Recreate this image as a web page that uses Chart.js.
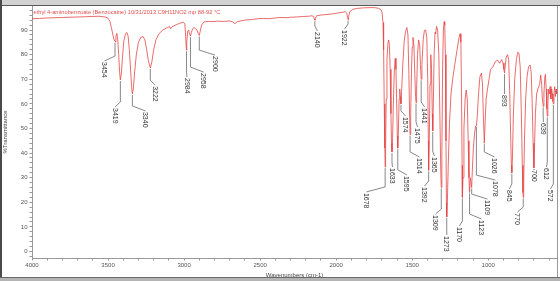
<!DOCTYPE html>
<html><head><meta charset="utf-8">
<script src="https://cdn.jsdelivr.net/npm/chart.js@4.4.1/dist/chart.umd.min.js"></script>
<style>
html,body{margin:0;padding:0;background:#fff;width:560px;height:281px;overflow:hidden;}
#wrap{position:relative;width:560px;height:281px;}
canvas{position:absolute;left:0;top:0;}
.f{position:absolute;}
</style></head><body>
<div id="wrap">
<canvas id="c" width="560" height="281"></canvas>
<div class="f" style="left:0;top:0;width:560px;height:5px;background:#d2d2d2"></div>
<div class="f" style="left:0;top:5px;width:560px;height:1px;background:#5a5a5a"></div>
<div class="f" style="left:0;top:0;width:2px;height:281px;background:#4a4a4a"></div>
<div class="f" style="left:557px;top:6px;width:1px;height:271px;background:#9a9a9a"></div>
<div class="f" style="left:0;top:277px;width:560px;height:1px;background:#6a6a6a"></div>
<div class="f" style="left:0;top:278px;width:560px;height:3px;background:#b4b4b4"></div>
</div>
<script>
// ---- data ----
const sampleTitle = "ethyl 4-aminobenzoate (Benzocaine) 10/31/2013 C9H11NO2 mp 88-92 \u00B0C";

const wavenumbers = [
4000,3950,3900,3850,3800,3750,3700,3650,3600,3560,3520,3500,3488,3478,3468,3460,3454,3448,3442,3436,
3430,3424,3419,3413,3405,3396,3385,3376,3368,3360,3352,3345,3340,3334,3325,3314,3300,3285,3270,3258,
3246,3235,3222,3212,3200,3185,3165,3140,3110,3095,3088,3080,3050,3025,3005,2995,2990,2986,2984,2981,
2976,2970,2964,2958,2952,2944,2935,2925,2915,2906,2900,2894,2885,2870,2840,2810,2780,2740,2700,2680,
2665,2650,2620,2590,2550,2510,2480,2440,2400,2370,2330,2300,2260,2220,2180,2160,2148,2144,2140,2136,
2128,2100,2060,2020,1990,1960,1940,1930,1925,1922,1918,1910,1890,1860,1820,1780,1750,1720,1705,1698,
1692,1688,1684,1680,
1678,1675,1671,1666,1660,1655,1650,1645,1640,1636,1633,1629,1624,1618,1612,1607,1602,1598,1595,1591,
1586,1582,1578,1574,1569,1562,1553,1544,1535,1528,1522,1517,1514,1510,1505,1500,1495,1489,1483,1478,
1475,1471,1465,1458,1451,1446,1441,1436,1428,1420,1412,1404,1398,1394,1392,1388,1383,1378,1373,1368,
1365,1361,1356,1350,1346,1340,1333,1325,1318,1312,1309,1305,1300,1295,1290,1286,1282,1278,1275,1273,
1269,1263,1255,1245,1232,1220,1205,1192,1185,1180,1176,1172,1170,1166,1160,1152,1145,1138,1132,1127,
1123,1118,1114,1109,1104,1098,1090,1083,1078,1072,1064,1055,1045,1038,1032,1026,1021,1014,1005,995,
985,970,955,940,925,912,903,897,893,889,882,873,866,859,852,848,845,841,835,826,
815,805,798,790,782,776,772,770,767,762,754,745,735,725,718,711,705,700,696,690,
682,672,662,655,649,644,639,634,628,624,619,615,612,608,603,598,593,588,583,578,
575,572,568,563,558,554,550,548
];

const transmittance = [
94.6,94.7,94.9,95.0,95.1,95.2,95.3,95.4,95.5,95.6,95.3,94.8,93.5,91,88,86,85.3,87.5,88.6,86,
80,73,69.7,72,79,85.5,88.5,89,87.5,82,74,67,64,66,73,80,85,87,87.4,86,
82,77.5,74.6,77,82,86,88.5,90,91,91.4,90.5,91.3,92.2,92.8,93.2,92.5,88,83,81.8,85,
89.5,90,88.5,87.5,89,90.5,91,90.5,90,88.5,87.8,89.5,92,93.3,93.5,93.4,93.6,93.5,93.7,93.3,
92.6,93.4,93.8,94.1,94.3,94.6,94.7,94.6,94.9,95.1,95.0,95.2,95.3,95.5,95.6,95.8,95.5,94.5,94.0,94.8,
95.8,96.1,96.3,96.6,96.9,97.2,97.4,96.8,95,94.2,95.5,97.5,98.4,98.8,99.0,99.1,99.1,98.8,98.2,97,
93,82,60,42,
34.3,42,62,78,84.5,86,84,74,56,44,40.5,46,60,73,78.5,74,60,47,42,49,
62,66,63,60,66,76,85,89.5,91,88,72,55,47.5,56,73,83,87,84,72,63,
60.5,66,80,86,84,76,70,76,86,89.8,90,87,70,45,33,45,68,80,74,56,
49,60,80,89,88.5,91.5,90,80,55,32,26,40,75,90,93.4,92,80,45,20,14,
20,35,52,64,71,76,82,87,88.5,85,65,35,22,30,50,62,65.6,62,45,30,
24,30,30,26,34,42,48,51,51,55,64,71,72.5,68,55,44,52,62,66,70,
74,75,77,77.8,76.5,78,76.6,74,72.5,75,79,80,78,65,45,35,32,38,55,70,
78,81,80.5,75,55,35,24,22,28,45,62,71,75,75.8,73,60,44,34,42,56,
64,66.4,68,71.7,68,62,59,64,71,72,66,58,55,60,66,64,67,62,66,64,
61,60,64,67,63,66,64,65
];

// labelled peaks (cm-1)
const peakWavenumbers = [3454,3419,3340,3222,2984,2958,2900,2140,1922,1678,1633,1595,1574,1514,1475,1441,
  1392,1365,1309,1273,1170,1123,1109,1078,1026,893,845,770,700,639,612,572];

// axis ticks
const xTickValues = [];
for (let v = 600; v <= 4000; v += 100) xTickValues.push(v);
const xTickLabels = [4000,3500,3000,2500,2000,1500,1000];
const yTickValues = [];
for (let v = -2; v <= 98; v += 2) yTickValues.push(v);
const yTickLabels = [0,10,20,30,40,50,60,70,80,90];

// ---- layout (label placement, in data units) ----
const labelAnchorWn = [3523,3454,3254,3191,2981,2872,2797,2123,1945,1801,1630,1535,1544,1452,1465,1419,
  1419,1354,1347,1272,1189,1045,1005,953,959,893,861,808,696,637,617,591];
const labelAnchorT = [77.0,58.3,56.7,67.2,70.5,72.5,79.4,89.2,90.0,23.8,33.9,30.7,54.7,38.0,50.2,58.3,
  26.2,38.4,14.8,6.3,10.0,12.8,20.9,28.6,38.0,63.6,25.0,15.6,33.1,52.2,33.9,25.0];

const FONT = '"Liberation Sans", Arial, sans-serif';
const points = wavenumbers.map((w, i) => ({x: w, y: transmittance[i]}));

function interpT(w) {
  for (let i = 0; i < wavenumbers.length - 1; i++) {
    const a = wavenumbers[i], b = wavenumbers[i + 1];
    if (w <= a && w >= b) {
      const t = (a - w) / (a - b);
      return transmittance[i] + t * (transmittance[i + 1] - transmittance[i]);
    }
  }
  return transmittance[transmittance.length - 1];
}

const annotate = {
  id: 'annotate',
  afterDatasetsDraw(chart) {
    const {ctx, chartArea, scales: {x, y}} = chart;
    ctx.save();
    ctx.fillStyle = 'rgb(225,80,80)';
    ctx.font = '5.7px ' + FONT;
    ctx.textBaseline = 'middle';
    ctx.textAlign = 'left';
    ctx.fillText(sampleTitle, chartArea.left + 1.5, chartArea.top + 6.5);

    ctx.strokeStyle = '#6a6a6a';
    ctx.lineWidth = 0.8;
    ctx.fillStyle = '#333';
    ctx.font = '7px ' + FONT;
    peakWavenumbers.forEach((wn, i) => {
      const xp = x.getPixelForValue(wn);
      const yp = y.getPixelForValue(interpT(wn));
      const xl = x.getPixelForValue(labelAnchorWn[i]);
      const yt = y.getPixelForValue(labelAnchorT[i]);
      const yb = Math.max(yp + 2, yt - 6);
      ctx.beginPath();
      ctx.moveTo(xp, yp + 1);
      ctx.lineTo(xp, yb);
      ctx.lineTo(xl, yt - 1);
      ctx.stroke();
      ctx.save();
      ctx.translate(xl, yt);
      ctx.rotate(Math.PI / 2);
      ctx.textBaseline = 'middle';
      ctx.textAlign = 'left';
      ctx.fillText(String(wn), 0, 0.5);
      ctx.restore();
    });
    ctx.restore();
  }
};

new Chart(document.getElementById('c'), {
  type: 'scatter',
  data: {
    datasets: [{
      data: points,
      showLine: true,
      borderColor: 'rgb(228,70,70)',
      borderWidth: 0.8,
      pointRadius: 0,
      tension: 0,
      fill: false
    }]
  },
  options: {
    responsive: false,
    animation: false,
    devicePixelRatio: 1,
    layout: {padding: {top: 6, right: 3, left: 0, bottom: 0}},
    plugins: {legend: {display: false}, tooltip: {enabled: false}, title: {display: false}},
    scales: {
      x: {
        type: 'linear', reverse: true, min: 548, max: 4000,
        afterBuildTicks: s => { s.ticks = xTickValues.map(v => ({value: v})); },
        afterFit: s => { s.height = 23; },
        ticks: {
          autoSkip: false, maxRotation: 0, minRotation: 0, padding: 1.5,
          color: '#555', font: {size: 6, family: FONT},
          callback: v => xTickLabels.includes(v) ? String(v) : ''
        },
        grid: {drawOnChartArea: false, drawTicks: true, tickLength: 2.5, color: '#999'},
        border: {display: true, color: '#999', width: 1},
        title: {display: true, text: 'Wavenumbers (cm-1)', color: '#444',
                font: {size: 6, family: FONT}, padding: {top: 0, bottom: 2.4}}
      },
      y: {
        type: 'linear', min: -2.64, max: 99.76,
        afterBuildTicks: s => { s.ticks = yTickValues.map(v => ({value: v})); },
        afterFit: s => { s.width = 32; },
        ticks: {
          autoSkip: false, padding: 2,
          color: '#555', font: {size: 6, family: FONT},
          callback: v => yTickLabels.includes(v) ? String(v) : ''
        },
        grid: {drawOnChartArea: false, drawTicks: true, tickLength: 2.5, color: '#999'},
        border: {display: true, color: '#999', width: 1},
        title: {display: true, text: '%Transmittance', color: '#444',
                font: {size: 6, family: FONT}, padding: {top: 2, bottom: 0}}
      }
    }
  },
  plugins: [annotate]
});
</script>
</body></html>
